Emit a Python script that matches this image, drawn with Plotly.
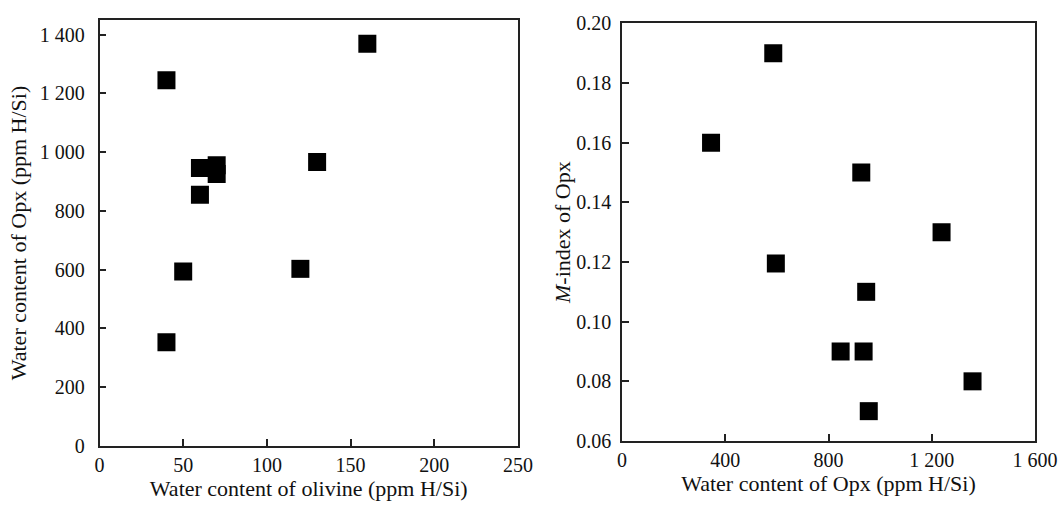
import plotly.graph_objects as go

# Left panel: water content of olivine vs Opx (ppm H/Si)
ol_water = [40, 60, 60, 70, 70, 50, 40, 120, 130, 160]
opx_water_left = [1245, 946, 855, 956, 926, 594, 353, 603, 967, 1369]

# Right panel: water content of Opx vs M-index of Opx
opx_water_right = [586, 345, 596, 946, 847, 936, 1358, 956, 927, 1238]
m_index = [0.190, 0.160, 0.1195, 0.110, 0.090, 0.090, 0.080, 0.070, 0.150, 0.130]

left_x_ticks = [0, 50, 100, 150, 200, 250]
left_y_ticks = [0, 200, 400, 600, 800, 1000, 1200, 1400]
left_y_text = ["0", "200", "400", "600", "800", "1 000", "1 200", "1 400"]
right_x_ticks = [0, 400, 800, 1200, 1600]
right_x_text = ["0", "400", "800", "1 200", "1 600"]
right_y_ticks = [0.06, 0.08, 0.10, 0.12, 0.14, 0.16, 0.18, 0.20]
right_y_text = ["0.06", "0.08", "0.10", "0.12", "0.14", "0.16", "0.18", "0.20"]

FONT = "Liberation Serif, Times New Roman, serif"
W, H = 1063, 507
TICK_SIZE = 20
TITLE_SIZE = 22

marker = dict(symbol="square", size=18, color="black", line=dict(width=0))

fig = go.Figure()
fig.add_trace(go.Scatter(x=ol_water, y=opx_water_left, mode="markers",
                         marker=marker, xaxis="x", yaxis="y", showlegend=False))
fig.add_trace(go.Scatter(x=opx_water_right, y=m_index, mode="markers",
                         marker=marker, xaxis="x2", yaxis="y2", showlegend=False))

axis_common = dict(
    showgrid=False, zeroline=False, showline=True, linecolor="#222",
    linewidth=1.5, mirror=True, ticks="inside", ticklen=7, tickwidth=1.5,
    tickcolor="#222", tickfont=dict(family=FONT, size=TICK_SIZE, color="#111"),
    automargin=False,
)

fig.update_layout(
    width=W, height=H,
    margin=dict(l=0, r=0, t=0, b=0),
    paper_bgcolor="white", plot_bgcolor="white",
    font=dict(family=FONT, size=TITLE_SIZE, color="#111"),
    xaxis=dict(axis_common, domain=[99.5 / W, 518 / W], range=[0, 250],
               tickvals=left_x_ticks, ticktext=[str(v) for v in left_x_ticks],
               anchor="y", ticklabelstandoff=0,
               title=dict(text="Water content of olivine (ppm H/Si)",
                          font=dict(family=FONT, size=TITLE_SIZE), standoff=5)),
    yaxis=dict(axis_common, domain=[1 - 446 / H, 1 - 20 / H], range=[0, 1450],
               tickvals=left_y_ticks, ticktext=left_y_text, anchor="x",
               ticklabelstandoff=9,
               title=dict(text="Water content of Opx (ppm H/Si)",
                          font=dict(family=FONT, size=TITLE_SIZE), standoff=7)),
    xaxis2=dict(axis_common, domain=[622 / W, 1035 / W], range=[0, 1600],
                tickvals=right_x_ticks, ticktext=right_x_text, anchor="y2",
                ticklabelstandoff=0,
                title=dict(text="Water content of Opx (ppm H/Si)",
                           font=dict(family=FONT, size=TITLE_SIZE), standoff=5)),
    yaxis2=dict(axis_common, domain=[1 - 441 / H, 1 - 23.3 / H], range=[0.06, 0.20],
                tickvals=right_y_ticks, ticktext=right_y_text, anchor="x2",
                ticklabelstandoff=5,
                title=dict(text="<i>M</i>-index of Opx",
                           font=dict(family=FONT, size=TITLE_SIZE), standoff=0)),
)

fig.write_html("out.html")
